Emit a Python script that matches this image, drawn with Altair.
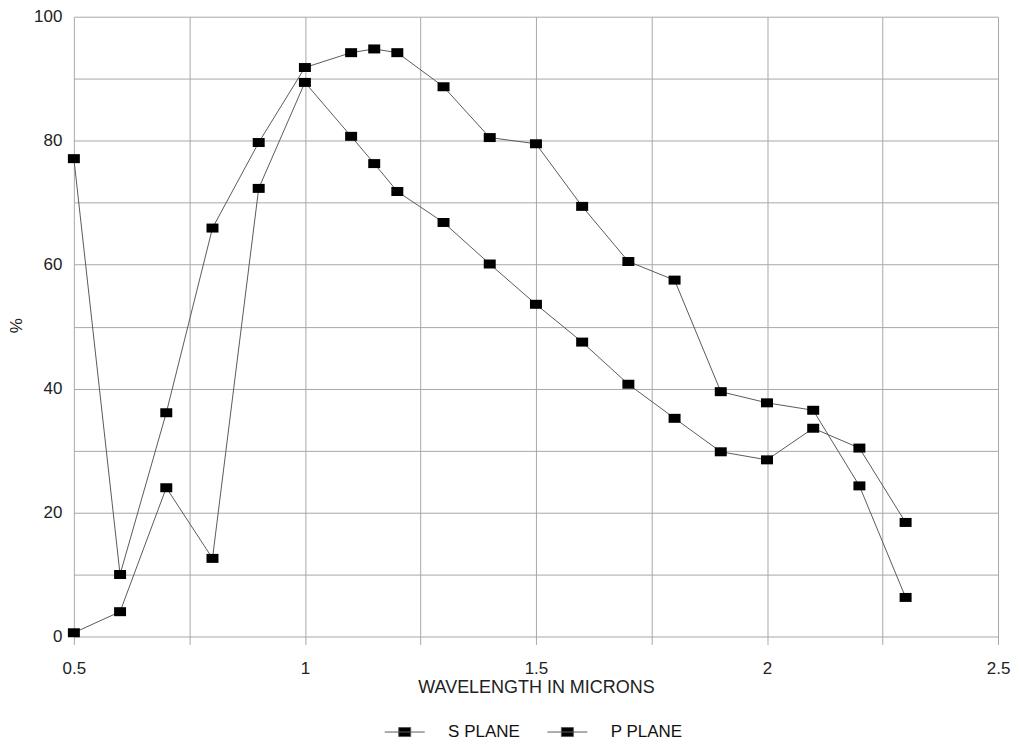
import altair as alt
import pandas as pd

wavelength = [0.5, 0.6, 0.7, 0.8, 0.9, 1.0, 1.1, 1.15, 1.2, 1.3, 1.4, 1.5, 1.6, 1.7, 1.8, 1.9, 2.0, 2.1, 2.2, 2.3]
s_plane = [77.1, 10.0, 36.1, 65.9, 79.7, 91.8, 94.2, 94.8, 94.2, 88.7, 80.5, 79.5, 69.4, 60.5, 57.5, 39.5, 37.7, 36.5, 24.3, 6.3]
p_plane = [0.6, 4.0, 24.0, 12.6, 72.3, 89.4, 80.7, 76.3, 71.8, 66.8, 60.1, 53.6, 47.5, 40.7, 35.2, 29.8, 28.5, 33.6, 30.4, 18.4]
series_names = ["S PLANE", "P PLANE"]
x_grid = [0.5, 0.75, 1.0, 1.25, 1.5, 1.75, 2.0, 2.25, 2.5]
y_grid = [0, 10, 20, 30, 40, 50, 60, 70, 80, 90, 100]

rows = []
for name, vals in zip(series_names, [s_plane, p_plane]):
    for w, v in zip(wavelength, vals):
        rows.append({"series": name, "wavelength": w, "pct": v})
df = pd.DataFrame(rows)

FONT = "Liberation Sans"
GRID = "#a8a8a8"
LINE = "#5a5a5a"

legend_symbol = "M-2,0L2,0M-0.6,-0.45L0.6,-0.45L0.6,0.45L-0.6,0.45Z"
legend_def = alt.Legend(
    title=None,
    orient="none",
    legendX=321,
    legendY=706,
    direction="horizontal",
    symbolType=legend_symbol,
    symbolSize=400,
    symbolStrokeWidth=1,
    labelOffset=33,
    columnPadding=25,
    labelFontSize=17,
    labelFont=FONT,
    labelColor="#111111",
    labelLimit=0,
)

x_enc = alt.X(
    "wavelength:Q",
    scale=alt.Scale(domain=[0.5, 2.5], nice=False, zero=False),
    axis=alt.Axis(
        values=x_grid,
        format="~g",
        labelExpr="datum.value % 0.5 == 0 ? datum.label : ''",
        labelFlush=False,
        labelOverlap=False,
        title="WAVELENGTH IN MICRONS",
        grid=True,
        gridColor=GRID,
        gridWidth=1,
        domain=False,
        ticks=True,
        tickColor=GRID,
        tickSize=8,
        labelPadding=16,
        labelFontSize=17,
        labelFont=FONT,
        labelColor="#222222",
        titleFontSize=18,
        titleFont=FONT,
        titleFontWeight="normal",
        titleColor="#222222",
        titleY=51,
        titleBaseline="middle",
    ),
)
y_enc = alt.Y(
    "pct:Q",
    scale=alt.Scale(domain=[0, 100], nice=False),
    axis=alt.Axis(
        values=y_grid,
        labelExpr="datum.value % 20 == 0 ? datum.label : ''",
        labelFlush=False,
        labelOverlap=False,
        title="%",
        grid=True,
        gridColor=GRID,
        gridWidth=1,
        domain=False,
        ticks=False,
        labelPadding=12,
        labelFontSize=17,
        labelFont=FONT,
        labelColor="#222222",
        titleFontSize=17,
        titleFont=FONT,
        titleFontWeight="normal",
        titleColor="#222222",
        titleX=-57,
        titleY=309,
        titleBaseline="middle",
    ),
)

lines = alt.Chart(df).mark_line(strokeWidth=1).encode(
    x=x_enc,
    y=y_enc,
    stroke=alt.Stroke(
        "series:N",
        scale=alt.Scale(domain=series_names, range=[LINE, LINE]),
        legend=legend_def,
    ),
)

points = alt.Chart(df).mark_point(
    filled=True,
    opacity=1,
    size=100,
    shape="M-1.2,-0.9L1.2,-0.9L1.2,0.9L-1.2,0.9Z",
).encode(
    x=x_enc,
    y=y_enc,
    fill=alt.Fill(
        "series:N",
        scale=alt.Scale(domain=series_names, range=["#000000", "#000000"]),
        legend=legend_def,
    ),
)

chart = (
    alt.layer(lines, points)
    .properties(
        width=926,
        height=621,
        padding={"left": 66, "top": 8, "right": 13, "bottom": 108},
        autosize=alt.AutoSizeParams(type="none"),
        background="white",
    )
    .configure_view(stroke=None)
)

chart.save("out.html", embed_options={"renderer": "svg", "actions": False})
